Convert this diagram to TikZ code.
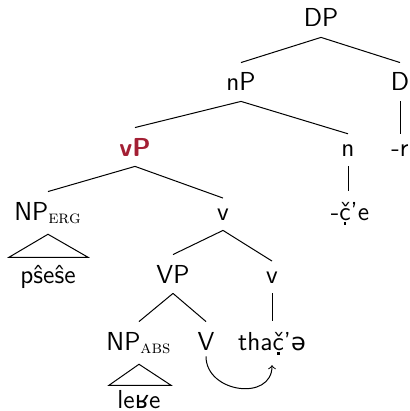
\documentclass[tikz,border=0pt]{standalone}
\usepackage{fontspec}
\usepackage{xcolor}
\newfontfamily\ipafont{DejaVu Sans}[Scale=0.92]
\definecolor{vpred}{RGB}{163,31,52}
\newcommand{\erg}{\textsubscript{\rmfamily\textsc{erg}}}
\newcommand{\abs}{\textsubscript{\rmfamily\textsc{abs}}}
\newcommand{\cdotb}{{\ooalign{\v{c}\cr\hidewidth\raisebox{-2.4pt}{\rule{1.2pt}{1.2pt}}\hidewidth\cr}}}
\tikzset{
  cat/.style={font=\sffamily\fontsize{13}{16}\selectfont, anchor=base, inner sep=5pt},
  branch/.style={line width=0.5pt},
}
\begin{document}
\begin{tikzpicture}[x=0.5pt, y=-0.5pt]
  \useasboundingbox (0,0) rectangle (410,411);
  %
  % TOP
  \node[cat] (dp) at (321,27) {DP};
  \node[cat] (np) at (241,91) {nP};
  \node[cat] (d) at (400,91) {D};
  \node[cat] (dr) at (400,156) {-r};
  % LITTLE n
  \node[cat, text=vpred, font=\sffamily\bfseries\fontsize{13}{16}\selectfont] (vp) at (135,156) {vP};
  \node[cat] (n) at (348,156) {n};
  \node[cat] (nce) at (350,220) {-\cdotb'e};
  % LITTLE v
  \node[cat] (nperg) at (48,220) {NP\erg};
  \node[cat] (vbar) at (223,220) {v};
  \node[cat] (pses) at (48,283) {p\^{s}e\^{s}e};
  \node[cat] (bigvp) at (173,283) {VP};
  \node[cat] (vhead) at (272,283) {v};
  % LOWER
  \node[cat] (npabs) at (139,350) {NP\abs};
  \node[cat] (bigv) at (206,350) {V};
  \node[cat] (thac) at (272,350) {tha\cdotb'{\ipafont ə}};
  \node[cat, inner sep=0pt] (lere) at (139,408) {le{\ipafont ʁ}e};
  %
  \draw[branch] (dp.south) -- (np.north);
  \draw[branch] (dp.south) -- (d.north);
  \draw[branch] (np.south) -- (vp.north);
  \draw[branch] (np.south) -- (n.north);
  \draw[branch] (d.south) -- (dr.north);
  \draw[branch] (n.south) -- (n.south |- nce.north);
  \draw[branch] (vp.south) -- (nperg.north);
  \draw[branch] (vp.south) -- (vbar.north);
  \draw[branch] (vbar.south) -- (bigvp.north);
  \draw[branch] (vbar.south) -- (vhead.north);
  \draw[branch] (bigvp.south) -- (npabs.north);
  \draw[branch] (bigvp.south) -- (bigv.north);
  \draw[branch] (vhead.south) -- (vhead.south |- thac.north);
  % triangles
  \draw[branch] (nperg.south) -- ++(-39,23) -- ++(79,0) -- cycle;
  \draw[branch] (npabs.south) -- ++(-30,21) -- ++(62,0) -- cycle;
  %
  \draw[branch, ->] ([yshift=2pt]bigv.south) to[out=-90, in=-90, looseness=1.4] (thac.south);
  %
\end{tikzpicture}
\end{document}
